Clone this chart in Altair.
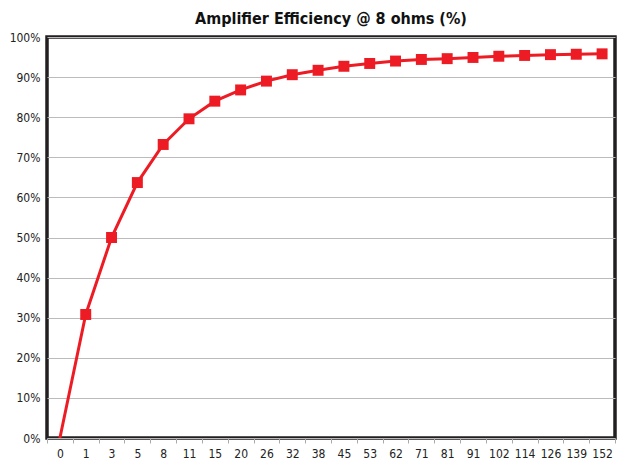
import altair as alt
import pandas as pd

power = ["0", "1", "3", "5", "8", "11", "15", "20", "26", "32", "38",
         "45", "53", "62", "71", "81", "91", "102", "114", "126", "139", "152"]
efficiency = [0, 30.8, 50.0, 63.7, 73.2, 79.6, 84.0, 86.8, 89.0, 90.6, 91.7,
              92.7, 93.4, 94.0, 94.4, 94.6, 94.9, 95.2, 95.4, 95.6, 95.7, 95.8]
show_marker = [False] + [True] * (len(power) - 1)
y_ticks = [0, 10, 20, 30, 40, 50, 60, 70, 80, 90, 100]

df = pd.DataFrame({"power": power, "eff": efficiency, "marker": show_marker})

RED = "#ED1C24"
FONT = "DejaVu Sans Condensed"

x = alt.X("power:O", sort=power,
          scale=alt.Scale(type="band", paddingInner=0, paddingOuter=0),
          axis=alt.Axis(title=None, labelAngle=0, tickBand="extent", domain=False,
                        ticks=True, tickColor="#AAAAAA", tickSize=5,
                        labelFont=FONT, labelFontSize=12, labelColor="#222222",
                        labelPadding=5, grid=False))
y = alt.Y("eff:Q", scale=alt.Scale(domain=[0, 100], nice=False, zero=True),
          axis=alt.Axis(title=None, values=y_ticks, labelExpr="datum.value + '%'",
                        ticks=False, domain=False, labelFont=FONT, labelFontSize=12,
                        labelColor="#222222", labelPadding=7, labelOverlap=False,
                        gridColor="#BBBBBB", gridWidth=1))

line = alt.Chart(df).mark_line(color=RED, strokeWidth=3).encode(x=x, y=y)
pts = alt.Chart(df).transform_filter("datum.marker").mark_square(
    color=RED, size=120, opacity=1).encode(x=x, y=y)

chart = alt.layer(line, pts).properties(
    width=568, height=401,
    title=alt.TitleParams("Amplifier Efficiency @ 8 ohms (%)", font=FONT, fontSize=16,
                          fontWeight="bold", color="#111111", offset=4, anchor="middle"),
    autosize=alt.AutoSizeParams(type="none"),
    padding={"left": 39, "top": 29, "right": 12, "bottom": 26},
).configure_view(stroke="#231F20", strokeWidth=3.5)

chart.save("out.html", embed_options={"renderer": "svg", "actions": False})
